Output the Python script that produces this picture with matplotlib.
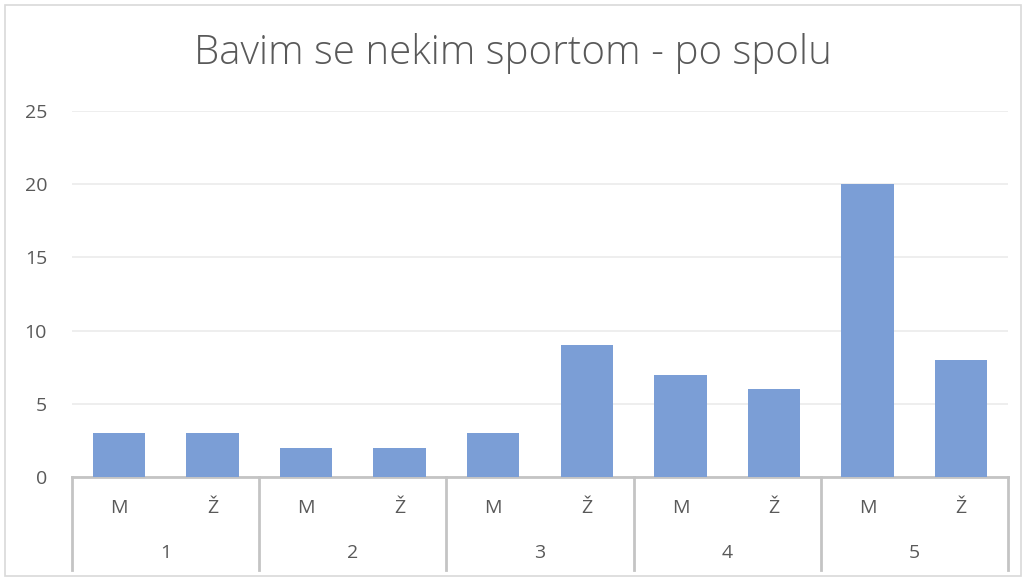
import matplotlib.pyplot as plt
import matplotlib.transforms as mtransforms
from matplotlib.patches import Rectangle

# data
groups = ['1', '2', '3', '4', '5']
sexes = ['M', 'Ž']
values = [3, 3, 2, 2, 3, 9, 7, 6, 20, 8]
yticks = [0, 5, 10, 15, 20, 25]

txt = '#595959'
plt.rcParams['font.family'] = ['Open Sans', 'DejaVu Sans']

fig = plt.figure(figsize=(10.26, 5.81), dpi=100)
W, H = 1026, 581
ax = fig.add_axes([72 / W, (H - 477) / H, (1008 - 72) / W, (477 - 111) / H])

x = list(range(len(values)))
ax.bar(x, values, width=0.56, color='#7b9ed6', zorder=3)

ax.set_xlim(-0.5, len(values) - 0.5)
ax.set_ylim(0, 25)
ax.set_yticks(yticks)
ax.set_yticklabels([str(t) for t in yticks], color=txt, fontsize=14)
ax.tick_params(axis='y', length=0, pad=18)
ax.yaxis.grid(True, color='#ebebeb', linewidth=1.2, zorder=0)
ax.set_xticks([])
for s in ['top', 'right', 'left']:
    ax.spines[s].set_visible(False)
ax.spines['bottom'].set_color('#c4c4c4')
ax.spines['bottom'].set_linewidth(2)

# two-level category axis
trans = mtransforms.blended_transform_factory(ax.transData, ax.transAxes)
depth = (570 - 477) / (477 - 111)
for i in range(len(groups) + 1):
    xs = i * 2 - 0.5
    ax.plot([xs, xs], [0, -depth], transform=trans, color='#c4c4c4',
            linewidth=2, clip_on=False)
for i, v in enumerate(values):
    ax.text(i, -(508 - 477) / (477 - 111), sexes[i % 2], transform=trans,
            ha='center', va='center', color=txt, fontsize=14)
for j, g in enumerate(groups):
    ax.text(j * 2 + 0.5, -(553 - 477) / (477 - 111), g, transform=trans,
            ha='center', va='center', color=txt, fontsize=14)

fig.text(0.5, (H - 54) / H, 'Bavim se nekim sportom - po spolu', ha='center',
         va='center', color=txt, fontsize=29, fontweight='light')

fig.patches.append(Rectangle((5 / W, 5 / H), (1021 - 5) / W, (576 - 5) / H,
                             transform=fig.transFigure, fill=False,
                             edgecolor='#d9d9d9', linewidth=1.2))

fig.savefig('out.png', dpi=100)
